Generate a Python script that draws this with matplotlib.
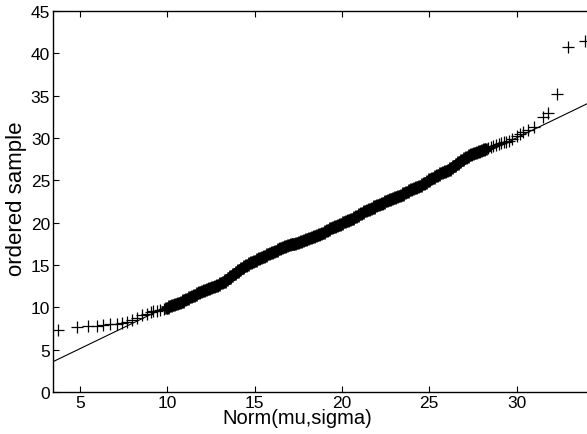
import matplotlib
matplotlib.use("Agg")
import matplotlib.pyplot as plt

plt.rcParams['font.family'] = ['Liberation Sans', 'DejaVu Sans']

# Theoretical quantiles (x) and ordered sample values (y)
qx = [3.76, 4.85, 5.48, 5.95, 6.34, 6.72, 7.10, 7.39, 7.67, 7.96, 8.25, 8.53, 8.82, 9.05,
      9.20, 9.40, 9.58, 9.78, 9.97, 10.15, 10.34, 10.50, 10.65, 10.82, 10.98, 11.14, 11.30,
      11.45, 11.60, 11.75, 11.87,
      12.02, 12.17, 12.32, 12.47, 12.62, 12.77, 12.92, 13.07, 13.22, 13.37, 13.52, 13.67,
      13.82, 13.97, 14.12, 14.27, 14.42, 14.57, 14.72, 14.87, 15.02, 15.17, 15.32, 15.47,
      15.62, 15.77, 15.92, 16.07, 16.22, 16.37, 16.52, 16.67, 16.82, 16.97, 17.12, 17.27,
      17.42, 17.57, 17.72, 17.87, 18.02, 18.17, 18.32, 18.47, 18.62, 18.77, 18.92, 19.07,
      19.22, 19.37, 19.52, 19.67, 19.82, 19.97, 20.12, 20.27, 20.42, 20.57, 20.72, 20.87,
      21.02, 21.17, 21.32, 21.47, 21.62, 21.77, 21.92, 22.07, 22.22, 22.37, 22.52, 22.67,
      22.82, 22.97, 23.12, 23.27, 23.42, 23.57, 23.72, 23.87, 24.02, 24.17, 24.32, 24.47,
      24.62, 24.77, 24.92, 25.07, 25.22, 25.37, 25.52, 25.67, 25.82, 25.97, 26.12, 26.27,
      26.42, 26.57, 26.72, 26.87, 27.02, 27.17, 27.32, 27.47, 27.62, 27.77, 27.92, 28.07,
      28.22, 28.37, 28.52, 28.67, 28.82, 28.97, 29.12, 29.27, 29.42, 29.57,
      29.75, 30.00, 30.20, 30.39, 30.67, 31.02, 31.50, 31.82, 32.30, 32.97, 33.92]
sample = [7.36, 7.71, 7.76, 7.83, 7.91, 8.00, 8.07, 8.15, 8.26, 8.50, 8.78, 9.05, 9.25, 9.40,
          9.52, 9.62, 9.72, 9.85, 9.96, 10.10, 10.27, 10.40, 10.52, 10.66, 10.82, 11.00, 11.18,
          11.35, 11.50, 11.65, 11.77,
          11.90, 12.02, 12.13, 12.25, 12.37, 12.50, 12.65, 12.82, 13.00, 13.20, 13.42, 13.65,
          13.90, 14.15, 14.40, 14.65, 14.85, 15.05, 15.22, 15.38, 15.52, 15.66, 15.80, 15.95,
          16.10, 16.25, 16.40, 16.55, 16.70, 16.85, 16.98, 17.10, 17.22, 17.33, 17.43, 17.53,
          17.63, 17.73, 17.83, 17.93, 18.04, 18.17, 18.30, 18.42, 18.53, 18.65, 18.80, 18.97,
          19.15, 19.32, 19.48, 19.62, 19.76, 19.90, 20.03, 20.17, 20.30, 20.45, 20.62, 20.80,
          20.98, 21.15, 21.32, 21.48, 21.63, 21.78, 21.93, 22.08, 22.23, 22.38, 22.53, 22.67,
          22.80, 22.93, 23.06, 23.18, 23.32, 23.48, 23.65, 23.82, 23.97, 24.10, 24.23, 24.36,
          24.52, 24.70, 24.90, 25.12, 25.33, 25.52, 25.68, 25.82, 25.95, 26.10, 26.26, 26.45,
          26.68, 26.92, 27.18, 27.42, 27.62, 27.80, 27.96, 28.10, 28.22, 28.35, 28.47, 28.58,
          28.68, 28.80, 28.92, 29.05, 29.18, 29.28, 29.38, 29.48, 29.58, 29.66,
          29.85, 30.26, 30.50, 30.73, 30.97, 31.32, 32.43, 32.94, 35.18, 40.77, 41.48]

# Reference line endpoints
line_x = [3.45, 35.0]
line_y = [3.58, 35.0]

xticks = [5, 10, 15, 20, 25, 30]
yticks = [0, 5, 10, 15, 20, 25, 30, 35, 40, 45]

W, H = 587, 435
fig = plt.figure(figsize=(W / 100, H / 100), dpi=100)
x0, x1 = 3.45, 35.0
ax_left_px, ax_bottom_px, ax_top_px = 53, 393, 12
ax_w_px = (x1 - x0) * 17.46
ax = fig.add_axes([ax_left_px / W, (H - ax_bottom_px) / H, ax_w_px / W,
                   (ax_bottom_px - ax_top_px) / H])

# all points as thin crosses
ax.plot(qx, sample, linestyle='none', marker='+', color='black',
        markersize=9, markeredgewidth=0.9)
# where the crosses pile up densely they merge into a solid band
dense = [(x, y) for x, y in zip(qx, sample) if 9.9 <= x <= 28.3]
ax.plot([p[0] for p in dense], [p[1] for p in dense], linestyle='none', marker='+',
        color='black', markersize=9, markeredgewidth=3.4)
ax.plot(line_x, line_y, color='black', linewidth=0.8)

ax.set_xlim(x0, x1)
ax.set_ylim(0, 45)
ax.set_xticks(xticks)
ax.set_yticks(yticks)
ax.tick_params(direction='in', length=4, width=0.8, labelsize=12.5, pad=2,
               top=True, right=True)
for s in ax.spines.values():
    s.set_linewidth(1.0)

ax.set_xlabel('Norm(mu,sigma)', fontsize=14.5)
ax.set_ylabel('ordered sample', fontsize=16)
ax.xaxis.set_label_coords((297 - ax_left_px) / ax_w_px, -0.043)
ax.xaxis.label.set_va('top')
ax.yaxis.set_label_coords(-(ax_left_px - 17) / ax_w_px, 0.51)
ax.yaxis.label.set_va('center')

fig.savefig('out.png', dpi=100)
